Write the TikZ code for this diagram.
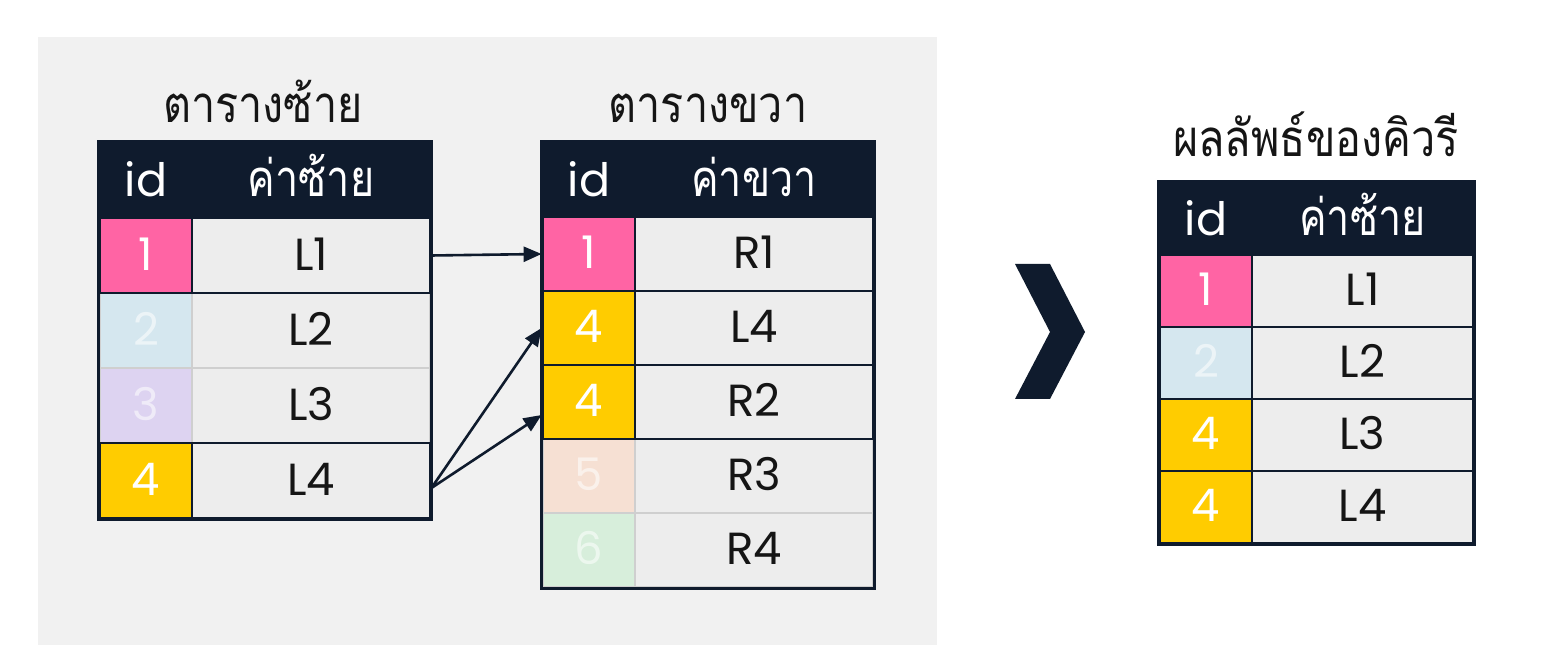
\documentclass[tikz,border=0pt]{standalone}
\usepackage{fontspec}
\setmainfont{Poppins}
\newfontfamily\thai[Script=Thai]{Loma}
\usetikzlibrary{arrows.meta,calc}
\definecolor{navy}{HTML}{0F1B2D}
\definecolor{panel}{HTML}{F1F1F1}
\definecolor{cellg}{HTML}{EDEDED}
\definecolor{pinkc}{HTML}{FF64A4}
\definecolor{bluec}{HTML}{D5E7EF}
\definecolor{lavc}{HTML}{DDD3F1}
\definecolor{yelc}{HTML}{FFCC00}
\definecolor{peachc}{HTML}{F6E0D3}
\definecolor{mintc}{HTML}{D7EEDB}
\definecolor{faint}{HTML}{CFCFCF}
\definecolor{inkc}{HTML}{151515}
\newcommand{\thhead}[1]{\scalebox{0.88}[1.08]{#1}}
\newcommand{\thtitle}[1]{\scalebox{0.88}[1.04]{#1}}
\tikzset{
  cell/.style={rectangle, inner sep=0pt, line width=1.4pt, text height=15pt, text depth=0pt,
    font=\fontsize{22.5}{26}\selectfont},
  idc/.style={cell, minimum width=46pt, text=white},
  valc/.style={cell, minimum width=119pt, fill=cellg, text=inkc},
  hot/.style={draw=navy},
  faded/.style={draw=faint},
  dim/.style={text opacity=0.55},
  headc/.style={rectangle, inner sep=0pt, line width=1.4pt, fill=navy, draw=navy, text=white,
    text height=16.5pt, text depth=0pt},
  headid/.style={headc, font=\fontsize{23}{26}\selectfont},
  headval/.style={headc, font=\thai\fontsize{23.5}{26}\selectfont},
  ttl/.style={anchor=base, text=inkc, font=\thai\fontsize{24.5}{28}\selectfont},
  frame/.style={draw=navy, line width=1.5pt},
  arr/.style={draw=navy, line width=1.3pt, -{Triangle[length=9pt,width=7.5pt]}},
}
\begin{document}
\begin{tikzpicture}[x=0.5pt,y=-0.5pt]
\useasboundingbox[fill=white] (0,0) rectangle (1552,672);
\fill[panel] (38,37) rectangle (937,645);

% ---------- left table ----------
\node[ttl] (tl) at (263,123) {\thtitle{ตารางซ้าย}};
\node[headid, minimum width=46pt, minimum height=37.5pt] (lh1) at (146,180.5) {id};
\node[headval, minimum width=119pt, minimum height=37.5pt] (lh2) at (311,180.5) {\thhead{ค่าซ้าย}};
\node[idc, faded, dim, fill=bluec, minimum height=37.5pt] (l2i) at (146,330.5) {2};
\node[valc, faded, minimum height=37.5pt] (l2v) at (311,330.5) {L2};
\node[idc, faded, dim, fill=lavc, minimum height=37.5pt] (l3i) at (146,405.5) {3};
\node[valc, faded, minimum height=37.5pt] (l3v) at (311,405.5) {L3};
\node[idc, hot, fill=pinkc, minimum height=37.5pt] (l1i) at (146,255.5) {1};
\node[valc, hot, minimum height=37.5pt] (l1v) at (311,255.5) {L1};
\node[idc, hot, fill=yelc, minimum height=37.5pt] (l4i) at (146,480.5) {4};
\node[valc, hot, minimum height=37.5pt] (l4v) at (311,480.5) {L4};
\draw[frame] (lh1.north west) rectangle (l4v.south east);

% ---------- right table ----------
\node[ttl] (tr) at (708,123) {\thtitle{ตารางขวา}};
\node[headid, minimum width=46pt, minimum height=37pt] (rh1) at (589,180) {id};
\node[headval, minimum width=119pt, minimum height=37pt] (rh2) at (754,180) {\thhead{ค่าขวา}};
\node[idc, faded, dim, fill=peachc, minimum height=37pt] (r4i) at (589,476) {5};
\node[valc, faded, minimum height=37pt] (r4v) at (754,476) {R3};
\node[idc, faded, dim, fill=mintc, minimum height=37pt] (r5i) at (589,550) {6};
\node[valc, faded, minimum height=37pt] (r5v) at (754,550) {R4};
\node[idc, hot, fill=pinkc, minimum height=37pt] (r1i) at (589,254) {1};
\node[valc, hot, minimum height=37pt] (r1v) at (754,254) {R1};
\node[idc, hot, fill=yelc, minimum height=37pt] (r2i) at (589,328) {4};
\node[valc, hot, minimum height=37pt] (r2v) at (754,328) {L4};
\node[idc, hot, fill=yelc, minimum height=37pt] (r3i) at (589,402) {4};
\node[valc, hot, minimum height=37pt] (r3v) at (754,402) {R2};
\draw[frame] (rh1.north west) rectangle (r5v.south east);

% ---------- connectors ----------
\draw[arr] (l1v.east) -- (r1i.west);
\draw[arr] ([yshift=-3.75pt]l4v.east) -- (r2i.west);
\draw[arr] ([yshift=-3.75pt]l4v.east) -- ([yshift=-6.5pt]r3i.west);

% ---------- chevron ----------
\fill[navy] (1015,264) -- (1050,264) -- (1085,332) -- (1050,399) -- (1015,399) -- (1050,332) -- cycle;

% ---------- result table ----------
\node[ttl] (tq) at (1316,157) {\thtitle{ผลลัพธ์ของคิวรี}};
\node[headid, minimum width=46pt, minimum height=36pt] (qh1) at (1206,219) {id};
\node[headval, minimum width=110.5pt, minimum height=36pt] (qh2) at (1362.5,219) {\thhead{ค่าซ้าย}};
\node[idc, hot, fill=pinkc, minimum height=36pt] (q1i) at (1206,291) {1};
\node[valc, hot, minimum width=110.5pt, minimum height=36pt] (q1v) at (1362.5,291) {L1};
\node[idc, hot, dim, fill=bluec, minimum height=36pt] (q2i) at (1206,363) {2};
\node[valc, hot, minimum width=110.5pt, minimum height=36pt] (q2v) at (1362.5,363) {L2};
\node[idc, hot, fill=yelc, minimum height=36pt] (q3i) at (1206,435) {4};
\node[valc, hot, minimum width=110.5pt, minimum height=36pt] (q3v) at (1362.5,435) {L3};
\node[idc, hot, fill=yelc, minimum height=36pt] (q4i) at (1206,507) {4};
\node[valc, hot, minimum width=110.5pt, minimum height=36pt] (q4v) at (1362.5,507) {L4};
\draw[frame] (qh1.north west) rectangle (q4v.south east);
\end{tikzpicture}
\end{document}
